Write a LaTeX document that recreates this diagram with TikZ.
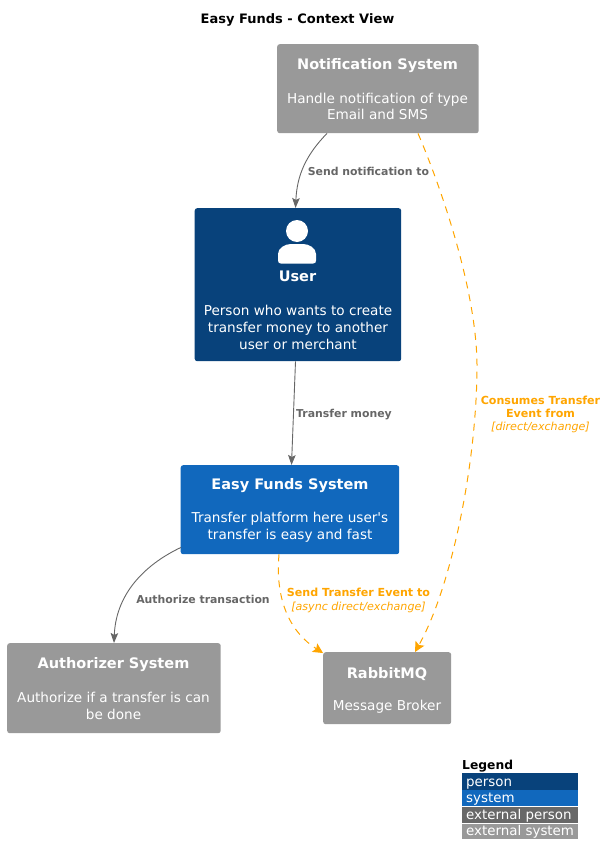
\documentclass[tikz,border=0pt]{standalone}
\usepackage{fontspec}
\setmainfont{DejaVu Sans}
\newfontfamily\plainf{DejaVu Sans}
\usetikzlibrary{arrows.meta,calc}
\definecolor{cperson}{HTML}{08427B}
\definecolor{csystem}{HTML}{1168BD}
\definecolor{cextperson}{HTML}{686868}
\definecolor{cext}{HTML}{999999}
\definecolor{cflow}{HTML}{FFA500}
\definecolor{cline}{HTML}{666666}
\newcommand{\fs}[1]{\fontsize{#1}{#1}\selectfont}
\tikzset{
  x=1pt,y=-1pt,
  boxnode/.style={rectangle,rounded corners=2.5pt,inner sep=0pt,anchor=north west},
  head/.style={text=white,font=\fs{14.5}\bfseries,inner sep=0pt},
  desc/.style={text=white,font=\fs{13.6},align=center,inner sep=0pt},
  rel/.style={text=cline,font=\fs{10.9}\bfseries,align=center,inner sep=0pt},
  flowlab/.style={text=cflow,font=\fs{11.1},align=center,inner sep=0pt},
  solidedge/.style={draw=cline,line width=0.9pt,-{Stealth[length=10pt,width=7.5pt,inset=2pt]}},
  flowedge/.style={draw=cflow,line width=1pt,dash pattern=on 7pt off 6pt,-{Stealth[length=10pt,width=10pt,inset=2pt]}},
  legrow/.style={rectangle,inner sep=0pt,anchor=north west,minimum width=116pt},
  legtext/.style={text=white,font=\fs{13.4},inner sep=0pt,anchor=base west},
}
\begin{document}
\begin{tikzpicture}
\useasboundingbox (0,0) rectangle (608,864);
\node[font=\fs{13}\bfseries,inner sep=0pt] (title) at (297.5,19.5) {Easy Funds - Context View};

% Notification System
\node[boxnode,fill=cext,minimum width=201.5pt,minimum height=89pt] (notif) at (277,44) {};
\node[head] (notifh) at (377.5,65.5) {Notification System};
\node[desc] (notifd) at (377.5,106.5) {Handle notification of type\\[3.2pt]Email and SMS};

% User
\node[boxnode,fill=cperson,minimum width=206.5pt,minimum height=153pt] (user) at (194.5,208) {};
\fill[white] (297,231) circle (11);
\fill[white] (278,260.5) -- (278,254) .. controls (278,248) and (285,244) .. (291,244) -- (303,244) .. controls (309,244) and (316,248) .. (316,254) -- (316,260.5) .. controls (316,262.5) and (315,263.5) .. (313,263.5) -- (281,263.5) .. controls (279,263.5) and (278,262.5) .. (278,260.5) -- cycle;
\node[head] (userh) at (297.5,276.5) {User};
\node[desc] (userd) at (298,327.5) {Person who wants to create\\[3.4pt]transfer money to another\\[3.4pt]user or merchant};

% Easy Funds
\node[boxnode,fill=csystem,minimum width=218.5pt,minimum height=89pt] (easy) at (180.5,465) {};
\node[head] (easyh) at (290,486) {Easy Funds System};
\node[desc] (easyd) at (290,527.5) {Transfer platform here user{\plainf'}s\\[3.2pt]transfer is easy and fast};

% Authorizer
\node[boxnode,fill=cext,minimum width=213.5pt,minimum height=90pt] (auth) at (7,643) {};
\node[head] (authh) at (113.5,664.5) {Authorizer System};
\node[desc] (authd) at (113.5,706) {Authorize if a transfer is can\\[3.2pt]be done};

% RabbitMQ
\node[boxnode,fill=cext,minimum width=128pt,minimum height=72pt] (rabbit) at (323,652) {};
\node[head] (rabbith) at (387,674.5) {RabbitMQ};
\node[desc] (rabbitd) at (387,706.5) {Message Broker};

% anchors on the boxes
\coordinate (a1) at ($(notif.south west)+(50,0)$);
\coordinate (a2) at ($(user.north west)+(101,0)$);
\coordinate (b1) at ($(notif.south west)+(141,0)$);
\coordinate (b2) at ($(rabbit.north west)+(92,0)$);
\coordinate (c1) at ($(user.south west)+(101,0)$);
\coordinate (c2) at ($(easy.north west)+(111,0)$);
\coordinate (d1) at ($(easy.south west)+(0.5,-7)$);
\coordinate (d2) at ($(auth.north west)+(107,0)$);
\coordinate (e1) at ($(easy.south west)+(98.5,0)$);
\coordinate (e2) at ($(rabbit.north west)+(0,1)$);

\draw[solidedge] (a1) .. controls (306,155) and (297,175) .. (a2);
\draw[solidedge] (c1) -- (c2);
\draw[solidedge] (d1) .. controls (150,562) and (116,590) .. (d2);
\draw[flowedge] (b1) .. controls (438,180) and (478,290) .. (477,370) .. controls (476,470) and (450,590) .. (b2);
\draw[flowedge] (e1) .. controls (275,600) and (290,632) .. (e2);

% Labels
\node[rel] (l1) at (368.5,171) {Send notification to};
\node[rel] (l2) at (344,415) {Transfer money};
\node[rel] (l3) at (203,599.5) {Authorize transaction};
\node[flowlab] (l4) at (540.5,414.5) {\textbf{Consumes Transfer}\\[2pt]\textbf{Event from}\\[2pt]\textit{[direct/exchange]}};
\node[flowlab] (l5) at (358.5,600.5) {\textbf{Send Transfer Event to}\\[3pt]\textit{[async direct/exchange]}};

% Legend
\node[font=\fs{12.3}\bfseries,inner sep=0pt,anchor=west] (legt) at (462,766) {Legend};
\node[legrow,fill=cperson,minimum height=16.5pt] (r1) at (462,773) {};
\node[legrow,fill=csystem,minimum height=16pt] (r2) at (462,790) {};
\node[legrow,fill=cextperson,minimum height=16pt] (r3) at (462,806.5) {};
\node[legrow,fill=cext,minimum height=15pt] (r4) at (462,823.5) {};
\node[legtext] (t1) at (466,786) {person};
\node[legtext] (t2) at (466,802.5) {system};
\node[legtext] (t3) at (466,819) {external person};
\node[legtext] (t4) at (466,835.5) {external system};
\end{tikzpicture}
\end{document}
